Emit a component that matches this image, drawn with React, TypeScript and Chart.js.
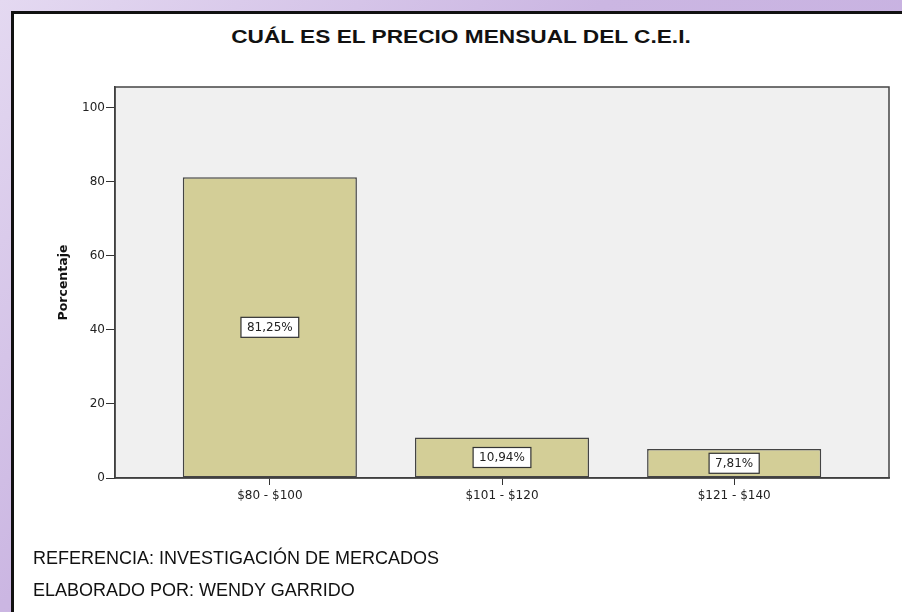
import React, { useEffect, useRef } from "react";
import { Chart, registerables } from "chart.js";

Chart.register(...registerables);

const TITLE = "CUÁL ES EL PRECIO MENSUAL DEL C.E.I.";
const Y_TITLE = "Porcentaje";
const categories = ["$80 - $100", "$101 - $120", "$121 - $140"];
const percentages = [81.25, 10.94, 7.81];
const yTicks = [0, 20, 40, 60, 80, 100];
const footerLines = [
  "REFERENCIA: INVESTIGACIÓN DE MERCADOS",
  "ELABORADO POR: WENDY GARRIDO",
];

const FONT = "'DejaVu Sans', sans-serif";

const plotBgPlugin = {
  id: "plotBg",
  beforeDraw(chart: any) {
    const { ctx, chartArea: a } = chart;
    ctx.save();
    ctx.fillStyle = "#f0f0f0";
    ctx.fillRect(a.left, a.top, a.right - a.left, a.bottom - a.top);
    ctx.restore();
  },
  afterDraw(chart: any) {
    const { ctx, chartArea: a } = chart;
    ctx.save();
    ctx.strokeStyle = "#444";
    ctx.lineWidth = 1.5;
    ctx.strokeRect(a.left, a.top, a.right - a.left, a.bottom - a.top);
    ctx.restore();
  },
};

const barLabelPlugin = {
  id: "barLabels",
  afterDatasetsDraw(chart: any) {
    const { ctx } = chart;
    const meta = chart.getDatasetMeta(0);
    ctx.save();
    ctx.font = `12px ${FONT}`;
    ctx.textAlign = "center";
    ctx.textBaseline = "middle";
    meta.data.forEach((bar: any, i: number) => {
      const text = percentages[i].toFixed(2).replace(".", ",") + "%";
      const cx = bar.x;
      const cy = (bar.y + bar.base) / 2;
      const w = ctx.measureText(text).width + 12;
      const h = 20;
      ctx.fillStyle = "#ffffff";
      ctx.fillRect(cx - w / 2, cy - h / 2, w, h);
      ctx.strokeStyle = "#333";
      ctx.lineWidth = 1.2;
      ctx.strokeRect(cx - w / 2, cy - h / 2, w, h);
      ctx.fillStyle = "#222";
      ctx.fillText(text, cx, cy + 0.5);
    });
    ctx.restore();
  },
};

export default function App() {
  const canvasRef = useRef<HTMLCanvasElement | null>(null);

  useEffect(() => {
    document.body.style.margin = "0";
    const canvas = canvasRef.current;
    if (!canvas) return;
    const chart = new Chart(canvas, {
      type: "bar",
      data: {
        datasets: [
          {
            data: percentages.map((v, i) => ({ x: i, y: v })),
            backgroundColor: "#d3ce97",
            borderColor: "#444",
            borderWidth: 1.5,
            borderSkipped: false,
            categoryPercentage: 1,
            barPercentage: 0.75,
          },
        ],
      },
      options: {
        animation: false,
        responsive: false,
        maintainAspectRatio: false,
        layout: { padding: { left: 50, right: 13, top: 87, bottom: 104 } },
        plugins: {
          legend: { display: false },
          tooltip: { enabled: false },
          title: { display: false },
        },
        scales: {
          x: {
            type: "linear",
            min: -0.667,
            max: 2.667,
            offset: false,
            afterBuildTicks(scale: any) {
              scale.ticks = categories.map((_, i) => ({ value: i }));
            },
            afterFit(scale: any) {
              scale.height = 30;
            },
            ticks: {
              autoSkip: false,
              maxRotation: 0,
              padding: 4,
              color: "#222",
              font: { family: FONT, size: 12 },
              callback: (v: any) => categories[Math.round(Number(v))] ?? "",
            },
            grid: {
              offset: false,
              drawOnChartArea: false,
              drawTicks: true,
              tickLength: 7,
              color: "#333",
            },
            border: { display: true, color: "#333", width: 1.5 },
          },
          y: {
            type: "linear",
            min: 0,
            max: 105.6,
            afterBuildTicks(scale: any) {
              scale.ticks = yTicks.map((v) => ({ value: v }));
            },
            afterFit(scale: any) {
              scale.width = 65;
            },
            ticks: {
              padding: 1,
              color: "#222",
              font: { family: FONT, size: 12 },
            },
            grid: {
              drawOnChartArea: false,
              drawTicks: true,
              tickLength: 9,
              color: "#333",
            },
            border: { display: true, color: "#333", width: 1.5 },
            title: {
              display: true,
              text: Y_TITLE,
              color: "#111",
              font: { family: FONT, size: 12.5, weight: "bold" },
              padding: { top: 6, bottom: 0 },
            },
          },
        },
      },
      plugins: [plotBgPlugin, barLabelPlugin],
    } as any);
    return () => chart.destroy();
  }, []);

  return (
    <div
      style={{
        position: "relative",
        width: 902,
        height: 612,
        overflow: "hidden",
        background: "linear-gradient(135deg, #e4d9f1 0%, #cbb6e2 40%, #c4ade0 100%)",
      }}
    >
      <div
        style={{
          position: "absolute",
          left: 11,
          top: 11,
          right: 0,
          bottom: 0,
          background: "#ffffff",
          borderLeft: "3px solid #111",
          borderTop: "3px solid #111",
        }}
      />
      <div
        style={{
          position: "absolute",
          left: 0,
          width: 922,
          top: 25,
          textAlign: "center",
          fontFamily: "'Liberation Sans', Arial, sans-serif",
          fontWeight: "bold",
          fontSize: 18,
          lineHeight: "24px",
          color: "#111",
          whiteSpace: "nowrap",
          transform: "scaleX(1.26)",
          transformOrigin: "461px 50%",
        }}
      >
        {TITLE}
      </div>
      <canvas
        ref={canvasRef}
        width={902}
        height={612}
        style={{ position: "absolute", left: 0, top: 0, width: 902, height: 612 }}
      />
      {footerLines.map((line, i) => (
        <div
          key={i}
          style={{
            position: "absolute",
            left: 33,
            top: 548 + i * 32,
            fontFamily: "'Liberation Sans', Arial, sans-serif",
            fontSize: 18,
            lineHeight: "20px",
            color: "#111",
            whiteSpace: "nowrap",
          }}
        >
          {line}
        </div>
      ))}
    </div>
  );
}
